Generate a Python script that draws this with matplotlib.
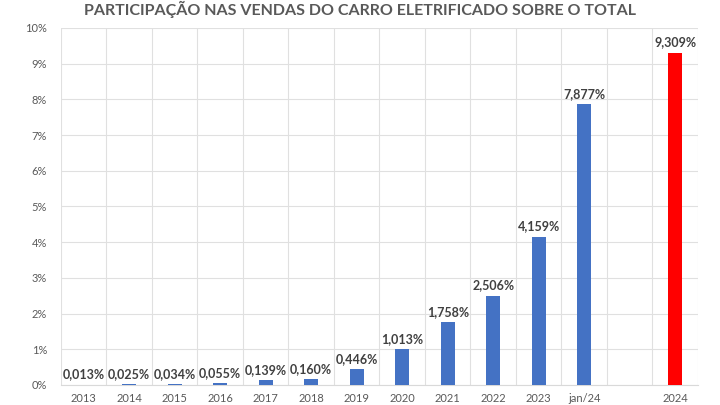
import matplotlib.pyplot as plt
import numpy as np

categorias = ["2013", "2014", "2015", "2016", "2017", "2018", "2019", "2020",
              "2021", "2022", "2023", "jan/24", "", "2024"]
participacao = [0.013, 0.025, 0.034, 0.055, 0.139, 0.160, 0.446, 1.013,
                1.758, 2.506, 4.159, 7.877, np.nan, 9.309]
rotulos = ["0,013%", "0,025%", "0,034%", "0,055%", "0,139%", "0,160%", "0,446%",
           "1,013%", "1,758%", "2,506%", "4,159%", "7,877%", "", "9,309%"]
cores = ["#4472C4"] * 13 + ["#FF0000"]

plt.rcParams['font.family'] = ['Lato', 'DejaVu Sans']

fig = plt.figure(figsize=(7.2, 4.05), dpi=100)
ax = fig.add_axes([0.0847, 0.0494, 0.8847, 0.8815])

x = np.arange(len(categorias))
ax.bar(x, np.nan_to_num(participacao), width=0.31, color=cores, zorder=3)

for xi, v, r in zip(x, participacao, rotulos):
    if r:
        ax.annotate(r, (xi, v), xytext=(0, 3), textcoords="offset points",
                    ha="center", va="bottom", fontsize=9, fontweight="bold",
                    color="#404040", zorder=4)

ax.set_xlim(-0.5, len(categorias) - 0.5)
ax.set_ylim(0, 10)
ax.set_yticks(range(0, 11))
ax.set_yticklabels([f"{i}%" for i in range(0, 11)])
ax.set_xticks(x)
ax.set_xticklabels(categorias)
ax.set_xticks(np.arange(-0.5, len(categorias)), minor=True)

ax.grid(axis="y", color="#E0E0E0", linewidth=0.8, zorder=0)
ax.grid(axis="x", which="minor", color="#E0E0E0", linewidth=0.8, zorder=0)
ax.tick_params(axis="both", which="both", length=0, colors="#595959", labelsize=8)
ax.tick_params(axis="x", pad=6)
ax.tick_params(axis="y", pad=10)
for s in ["top", "right", "left"]:
    ax.spines[s].set_visible(False)
ax.spines["bottom"].set_color("#D9D9D9")

fig.text(0.5, 1 - 15 / 405, "PARTICIPAÇÃO NAS VENDAS DO CARRO ELETRIFICADO SOBRE O TOTAL",
         ha="center", va="baseline", fontsize=11.5, fontweight="bold", color="#595959")

fig.savefig("out.png", dpi=100)
